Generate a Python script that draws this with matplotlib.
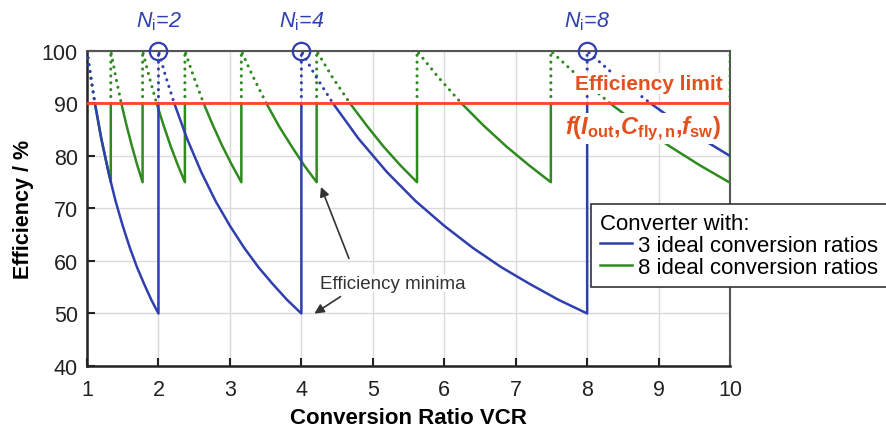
import numpy as np
import matplotlib
matplotlib.use('Agg')
import matplotlib.pyplot as plt
from matplotlib.lines import Line2D

plt.rcParams['font.family'] = ['Liberation Sans', 'DejaVu Sans']
plt.rcParams['mathtext.fontset'] = 'custom'
plt.rcParams['mathtext.rm'] = 'Liberation Sans'
plt.rcParams['mathtext.it'] = 'Liberation Sans:italic'
plt.rcParams['mathtext.bf'] = 'Liberation Sans:bold'
plt.rcParams['mathtext.bfit'] = 'Liberation Sans:italic:bold'

# values (sawtooth, verticals included as repeated x)
blue_x = [1.0, 1.05, 1.111, 1.2, 1.3, 1.4, 1.5, 1.6, 1.7, 1.8, 1.9, 2.0, 2.0, 2.0,
          2.1, 2.222, 2.4, 2.6, 2.8, 3.0, 3.2, 3.4, 3.6, 3.8, 4.0, 4.0, 4.0,
          4.2, 4.444, 4.8, 5.2, 5.6, 6.0, 6.4, 6.8, 7.2, 7.6, 8.0, 8.0, 8.0,
          8.4, 8.889, 9.2, 9.6, 10.0]
blue_y = [100, 95.2, 90, 83.3, 76.9, 71.4, 66.7, 62.5, 58.8, 55.6, 52.6, 50, 90, 100,
          95.2, 90, 83.3, 76.9, 71.4, 66.7, 62.5, 58.8, 55.6, 52.6, 50, 90, 100,
          95.2, 90, 83.3, 76.9, 71.4, 66.7, 62.5, 58.8, 55.6, 52.6, 50, 90, 100,
          95.2, 90, 87.0, 83.3, 80]

green_x = [1.0, 1.111, 1.2, 1.333, 1.333, 1.333,
           1.4, 1.481, 1.55, 1.63, 1.70, 1.778, 1.778, 1.778,
           1.87, 1.975, 2.07, 2.17, 2.27, 2.370, 2.370, 2.370,
           2.49, 2.633, 2.76, 2.89, 3.02, 3.160, 3.160, 3.160,
           3.32, 3.511, 3.69, 3.87, 4.04, 4.214, 4.214, 4.214,
           4.43, 4.682, 4.92, 5.15, 5.38, 5.619, 5.619, 5.619,
           5.91, 6.243, 6.55, 6.87, 7.18, 7.492, 7.492, 7.492,
           7.88, 8.324, 8.74, 9.16, 9.58, 10.0, 10.0, 10.0]
green_y = [100, 90, 83.3, 75, 90, 100,
           95.2, 90, 86.0, 81.8, 78.4, 75, 90, 100,
           95.1, 90, 85.9, 81.9, 78.3, 75, 90, 100,
           95.2, 90, 85.9, 82.0, 78.5, 75, 90, 100,
           95.2, 90, 85.6, 81.7, 78.2, 75, 90, 100,
           95.1, 90, 85.7, 81.8, 78.3, 75, 90, 100,
           95.1, 90, 85.8, 81.8, 78.3, 75, 90, 100,
           95.1, 90, 85.7, 81.8, 78.2, 74.9, 90, 100]

eff_limit = 90
ideal_points = [2, 4, 8]
ideal_labels = ['2', '4', '8']

blue = '#2f3fae'
green = '#2f8a1f'
red = '#ff4422'
limit_txt = '#e2501e'


def draw_split(ax, x, y, color, z):
    x = np.asarray(x, float)
    y = np.asarray(y, float)
    solid = np.where(y <= eff_limit, y, np.nan)
    dotted = np.where(y >= eff_limit, y, np.nan)
    ax.plot(x, solid, '-', color=color, lw=1.8, zorder=z)
    ax.plot(x, dotted, color=color, lw=2.2, linestyle=(0, (0.05, 2.2)),
            dash_capstyle='round', zorder=z)


fig = plt.figure(figsize=(8.86, 4.31), dpi=100)
ax = fig.add_axes([0.0982, 0.1485, 0.7258, 0.7309])

draw_split(ax, green_x, green_y, green, 3)
draw_split(ax, blue_x, blue_y, blue, 4)
ax.axhline(eff_limit, color=red, lw=2, zorder=5)

for xv, lab in zip(ideal_points, ideal_labels):
    ax.plot([xv], [100], 'o', ms=12.5, mfc='none', mec=blue, mew=1.6,
            clip_on=False, zorder=8)
    ax.text(xv, 105.8, r'$\mathit{N}_{\mathrm{i}}$=' + lab, style='italic',
            color=blue, fontsize=15.5, ha='center', va='center', clip_on=False)

ax.text(9.9, 93.8, 'Efficiency limit', color=limit_txt, fontsize=15,
        fontweight='bold', ha='right', va='center', zorder=6,
        bbox=dict(facecolor='white', edgecolor='none', pad=1))
ax.text(9.87, 85.3,
        r'$\mathbfit{f}\mathbf{(}\mathbfit{I}_{\mathbf{out}}\mathbf{,}'
        r'\mathbfit{C}_{\mathbf{fly,n}}\mathbf{,}\mathbfit{f}_{\mathbf{sw}}\mathbf{)}$',
        color=limit_txt, fontsize=17, ha='right', va='center', zorder=6,
        bbox=dict(facecolor='white', edgecolor='none', pad=1))

ax.text(5.28, 55.8, 'Efficiency minima', color='#333333', fontsize=13.5,
        ha='center', va='center', zorder=6,
        bbox=dict(facecolor='white', edgecolor='none', pad=0.5))
arrow = dict(arrowstyle='-|>', color='#333333', lw=1.2, mutation_scale=14)
ax.annotate('', xy=(4.26, 74.6), xytext=(4.68, 60.0), arrowprops=arrow, zorder=6)
ax.annotate('', xy=(4.15, 49.7), xytext=(4.58, 53.5), arrowprops=arrow, zorder=6)

ax.set_xlim(1, 10)
ax.set_ylim(40, 100)
ax.set_xticks(range(1, 11))
ax.set_yticks(range(40, 101, 10))
ax.grid(True, color='#dadada', lw=1)
ax.set_axisbelow(True)
ax.tick_params(direction='in', length=6, width=1.5, labelsize=15.5,
               colors='#222222')
ax.tick_params(axis='x', pad=9.5)
ax.tick_params(axis='y', pad=6.5)
for side in ['left', 'bottom']:
    ax.spines[side].set_linewidth(1.8)
    ax.spines[side].set_color('#222222')
for side in ['top', 'right']:
    ax.spines[side].set_linewidth(1.5)
    ax.spines[side].set_color('#555555')

ax.set_xlabel('Conversion Ratio VCR', fontsize=16, fontweight='bold', labelpad=5)
ax.set_ylabel('Efficiency / %', fontsize=15.5, fontweight='bold', labelpad=6)

handles = [Line2D([], [], color=blue, lw=1.8), Line2D([], [], color=green, lw=1.8)]
leg = fig.legend(handles, ['3 ideal conversion ratios', '8 ideal conversion ratios'],
                 title='Converter with:', loc='upper left',
                 bbox_to_anchor=(0.667, 0.524), fontsize=16, title_fontsize=16,
                 alignment='left', frameon=True, fancybox=False, framealpha=1,
                 edgecolor='#333333', handlelength=1.45, handletextpad=0.25,
                 borderpad=0.4, labelspacing=0.05, borderaxespad=0)
leg.get_frame().set_linewidth(1.2)
leg.set_zorder(10)

fig.savefig('out.png', dpi=100)
